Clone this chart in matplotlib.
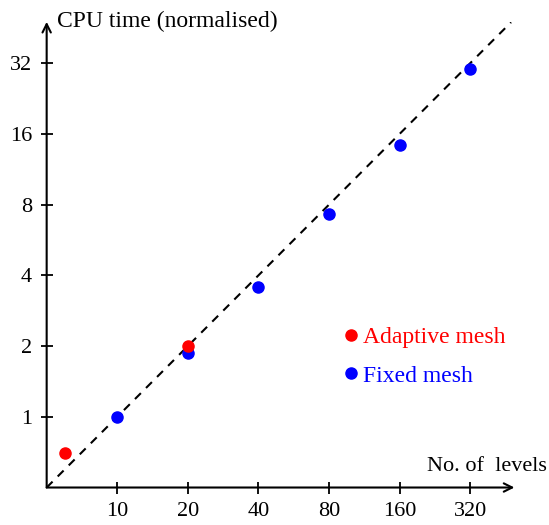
import matplotlib
matplotlib.use('Agg')
import matplotlib.pyplot as plt
import numpy as np

plt.rcParams['font.family'] = ['Liberation Serif', 'DejaVu Serif']

# data
adaptive_levels = [6, 20]
adaptive_cpu = [0.70, 2.0]
fixed_levels = [10, 20, 40, 80, 160, 320]
fixed_cpu = [1.0, 1.86, 3.57, 7.31, 14.3, 30.2]
x_ticks = [10, 20, 40, 80, 160, 320]
y_ticks = [1, 2, 4, 8, 16, 32]

fig = plt.figure(figsize=(5.49, 5.25), dpi=100)
ax = fig.add_axes([0.085, 0.0714, 0.852, 0.887])

ax.set_xscale('log', base=2)
ax.set_yscale('log', base=2)
ax.set_xlim(5, 494)
ax.set_ylim(0.5, 48)

# linear scaling reference line
ref_x = np.array([5.0, 478.0])
ax.plot(ref_x, ref_x / 10, ls=(0, (4, 3.5)), color='black', lw=1.5, zorder=1)

ax.plot(adaptive_levels, adaptive_cpu, 'o', color='#ff0000', ms=8,
        label='Adaptive mesh', zorder=3)
ax.plot(fixed_levels, fixed_cpu, 'o', color='#0000ff', ms=8,
        label='Fixed mesh', zorder=2)

for s in ax.spines.values():
    s.set_visible(False)
ax.annotate('', xy=(1, 0), xytext=(0, 0), xycoords='axes fraction',
            arrowprops=dict(arrowstyle='->', lw=1.5, color='black',
                            shrinkA=0, shrinkB=0, mutation_scale=15))
ax.annotate('', xy=(0, 1), xytext=(0, 0), xycoords='axes fraction',
            arrowprops=dict(arrowstyle='->', lw=1.5, color='black',
                            shrinkA=0, shrinkB=0, mutation_scale=15))

ax.set_xticks(x_ticks)
ax.set_xticklabels([str(t) for t in x_ticks])
ax.set_yticks(y_ticks)
ax.set_yticklabels([str(t) for t in y_ticks])
ax.minorticks_off()
ax.tick_params(direction='inout', length=9, width=1.3, labelsize=16, pad=6)

ax.text(0.023, 1.0, 'CPU time (normalised)', transform=ax.transAxes,
        fontsize=17, ha='left', va='center')
ax.text(1.07, 0.046, 'No. of  levels', transform=ax.transAxes,
        fontsize=16, ha='right', va='center')

leg = ax.legend(loc='upper left', bbox_to_anchor=(0.615, 0.371), frameon=False,
                handlelength=0.4, handletextpad=0.3, labelspacing=0.72,
                fontsize=17, labelcolor='linecolor', markerscale=1.0,
                borderpad=0)

fig.savefig('out.png', dpi=100)
